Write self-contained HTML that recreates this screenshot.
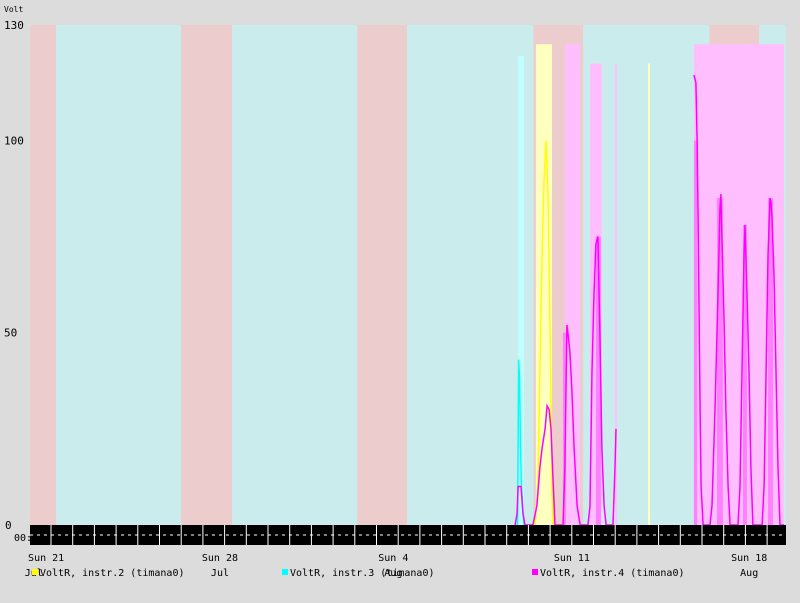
<!DOCTYPE html>
<html><head><meta charset="utf-8"><style>
html,body{margin:0;padding:0;background:#dcdcdc;}
svg{display:block;font-family:"DejaVu Sans Mono","Liberation Mono",monospace;}
</style></head><body>
<svg id="chart" width="800" height="603" viewBox="0 0 800 603" xmlns="http://www.w3.org/2000/svg">
<rect x="0" y="0" width="800" height="603" fill="#dcdcdc"/>
<g id="bands"></g><g id="env"></g><g id="lines"></g><g id="axis"></g><g id="legend"></g>
</svg>
<script>
const weekendBands=[[0,1.05],[6.09,8.15],[13.2,15.2],[20.3,22.3],[27.4,29.4]];
const yTicks=[0,50,100,130];
const xLabelDays=[0.65,7.66,14.65,21.85,29.0];
const xLabels=["Sun 21","Sun 28","Sun 4","Sun 11","Sun 18"];
const monthLabelDays=[0.15,7.66,14.65,29.0];
const monthLabels=["Jul","Jul","Aug","Aug"];
const envInstr2=[[20.40,21.05,125],[24.92,24.98,120]];
const envInstr3=[[19.68,19.92,122]];
const envInstr4=[[21.57,22.18,125],[22.58,23.06,120],[23.59,23.67,120],[26.77,30.40,125]];
const midInstr4=[[21.49,21.61,50],[22.82,23.02,75],[26.77,26.90,100],[27.70,27.94,85],[28.75,28.91,78],[29.76,29.96,85]];
const t2=[20.36,20.48,20.56,20.65,20.73,20.81,20.89,20.97,21.05,21.09,21.45];
const v2=[0,10,40,70,90,100,85,50,10,0,0];
const t3=[19.66,19.70,19.74,19.78,19.82,19.88,19.92,20.08];
const v3=[0,43,38,20,10,3,0,0];
const t4=[19.56,19.64,19.68,19.80,19.88,19.96,20.16,20.28,20.44,20.56,20.65,20.77,20.85,20.93,21.01,21.09,21.17,21.49,21.57,21.65,21.69,21.77,21.85,21.94,22.06,22.18,22.50,22.58,22.66,22.74,22.82,22.90,22.98,23.06,23.15,23.23,23.51,23.59,23.63,null,26.77,26.85,26.90,26.94,26.98,27.02,27.06,27.14,27.42,27.50,27.62,27.70,27.78,27.82,27.86,27.90,27.98,28.06,28.15,28.23,28.55,28.63,28.71,28.79,28.83,28.91,28.99,29.07,29.15,29.52,29.60,29.68,29.76,29.84,29.88,29.92,30.00,30.08,30.16,30.24,30.40];
const v4=[0,3,10,10,3,0,0,0,5,15,20,25,31,30,25,12,0,0,15,52,50,45,35,20,5,0,0,5,40,60,73,75,50,20,5,0,0,15,25,null,117,115,100,80,55,30,10,0,0,5,30,50,70,82,86,75,55,30,10,0,0,10,40,70,78,60,40,15,0,0,10,40,70,85,84,80,65,40,15,0,0];

const NS="http://www.w3.org/2000/svg";
const X0=30,X1=786,Y0=525,YT=25,DPX=24.8;
const xs=d=>X0+d*DPX;
const ys=v=>Y0-(v/130)*(Y0-YT);
function mk(tag,attrs,parent){const e=document.createElementNS(NS,tag);for(const k in attrs)e.setAttribute(k,attrs[k]);parent.appendChild(e);return e;}
const bands=document.getElementById('bands'),env=document.getElementById('env'),lines=document.getElementById('lines'),axis=document.getElementById('axis'),legend=document.getElementById('legend');

let r=mk('rect',{x:X0,y:YT,width:X1-X0,height:Y0-YT,fill:'#cbecec'},bands);


weekendBands.forEach(b=>{
  const e=mk('rect',{x:xs(b[0]),y:YT,width:xs(b[1])-xs(b[0]),height:Y0-YT,fill:'#eccccc'},bands);
  
  
});
function drawEnv(arr,col,name){arr.forEach(b=>{
  const e=mk('rect',{x:xs(b[0]),y:ys(b[2]),width:Math.max(2,xs(b[1])-xs(b[0])),height:Y0-ys(b[2]),fill:col},env);
  
  
});}
drawEnv(envInstr3,'#bfffff','instr3-range');
drawEnv(envInstr2,'#ffffc0','instr2-range');
drawEnv(envInstr4,'#ffbfff','instr4-range');
drawEnv(midInstr4,'#ff80ff','instr4-quartile');
function drawLine(t,v,col,name){
  let d='',pen=false;
  for(let i=0;i<t.length;i++){
    if(t[i]===null){pen=false;continue;}
    d+=(pen?'L':'M')+xs(t[i]).toFixed(1)+' '+ys(v[i]).toFixed(1)+' ';pen=true;
  }
  const e=mk('path',{d:d,fill:'none',stroke:col,'stroke-width':1.5},lines);
  
  
}
drawLine(t3,v3,'#00ffff','instr3-line');
drawLine(t2,v2,'#ffff00','instr2-line');
drawLine(t4,v4,'#ff00ff','instr4-line');

let bb=mk('rect',{x:X0,y:Y0,width:X1-X0,height:20,fill:'#000'},axis);


for(let x=51;x<X1;x+=21.7){mk('line',{x1:x,y1:Y0,x2:x,y2:Y0+20,stroke:'#fff','stroke-width':1},axis);}
mk('line',{x1:X0,y1:Y0+10,x2:X1,y2:Y0+10,stroke:'#fff','stroke-width':1,'stroke-dasharray':'3 4'},axis);
yTicks.forEach(v=>{
  const e=mk('text',{x:v===0?5:4,y:ys(v)+4,'font-size':11,fill:'#000'},axis);
  e.textContent=String(v);
  
  
});
let t0=mk('text',{x:14,y:541,'font-size':10,fill:'#000'},axis);t0.textContent='00:';


let yl=mk('text',{x:4,y:12,'font-size':8,fill:'#000'},axis);yl.textContent='Volt';


xLabels.forEach((s,i)=>{
  const e=mk('text',{x:xs(xLabelDays[i]),y:561,'font-size':10,fill:'#000','text-anchor':'middle'},axis);
  e.textContent=s;
  
  
});
monthLabels.forEach((s,i)=>{
  const e=mk('text',{x:xs(monthLabelDays[i]),y:576,'font-size':10,fill:'#000','text-anchor':'middle'},axis);
  e.textContent=s;
  
  
});
const legendItems=[[32,'#ffff00','VoltR, instr.2 (timana0)'],[282,'#00ffff','VoltR, instr.3 (timana0)'],[532,'#ff00ff','VoltR, instr.4 (timana0)']];
legendItems.forEach(it=>{
  const g=mk('g',{},legend);
  
  
  mk('rect',{x:it[0],y:569,width:6,height:6,fill:it[1]},g);
  const t=mk('text',{x:it[0]+8,y:576,'font-size':10,fill:'#000'},g);
  t.textContent=it[2];
});
</script>
</body></html>
